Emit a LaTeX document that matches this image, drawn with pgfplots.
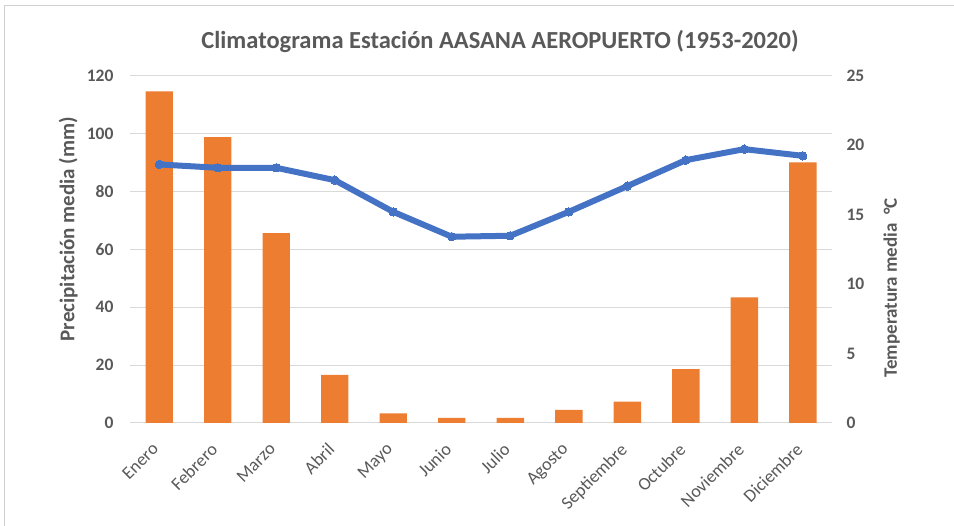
\documentclass[border=0pt]{standalone}
\usepackage{fontspec}
\setmainfont{Carlito}
\usepackage{pgfplots}
\pgfplotsset{compat=1.18}
\usepackage{pgfplotstable}
\definecolor{barorange}{HTML}{ED7D31}
\definecolor{lineblue}{HTML}{4472C4}
\definecolor{gridgray}{HTML}{D9D9D9}
\definecolor{textgray}{HTML}{595959}
\definecolor{framegray}{HTML}{D0D0D0}

% Monthly mean precipitation (mm) and mean temperature (deg C)
\pgfplotstableread{
m  prec   temp
0  114.5  18.60
1  98.7   18.36
2  65.6   18.36
3  16.6   17.47
4  3.3    15.19
5  1.8    13.40
6  1.8    13.47
7  4.5    15.19
8  7.4    17.04
9  18.6   18.91
10 43.4   19.70
11 90.0   19.22
}\clima

\begin{document}
\begin{tikzpicture}
\useasboundingbox (0pt,0pt) rectangle (954pt,526pt);
\draw[framegray, line width=1pt] (4pt,0pt) -- (4pt,520pt) -- (954pt,520pt);
\node[font=\bfseries\fontsize{24.5}{28}\selectfont, text=textgray] at (500pt,485pt)
  {Climatograma Estación AASANA AEROPUERTO (1953-2020)};

% precipitation bars, left axis
\begin{axis}[
  at={(130pt,103pt)}, anchor=south west,
  scale only axis, width=702pt, height=347.5pt,
  xmin=-0.5, xmax=11.5, ymin=0, ymax=120,
  ytick={0,20,...,120},
  xtick={0,...,11},
  xticklabels={Enero,Febrero,Marzo,Abril,Mayo,Junio,Julio,Agosto,Septiembre,Octubre,Noviembre,Diciembre},
  x tick label style={xshift=-8pt, yshift=-14pt, rotate=45, anchor=north east, font=\fontsize{18}{18}\selectfont, text=textgray},
  y tick label style={font=\bfseries\fontsize{17.5}{17.5}\selectfont, text=textgray, xshift=-13pt},
  /pgf/number format/assume math mode=true,
  ymajorgrids, grid style={gridgray, line width=1pt},
  axis line style={draw=none}, major tick style={draw=none},
  ylabel={Precipitación media (mm)},
  ylabel style={font=\bfseries\fontsize{21}{21}\selectfont, text=textgray, at={(axis description cs:-0.088,0.558)}, anchor=center},
  clip=false,
]
\addplot[ybar, bar width=0.47, fill=barorange, draw=none] table[x=m, y=prec] {\clima};
\end{axis}

% temperature line, right axis
\begin{axis}[
  at={(130pt,103pt)}, anchor=south west,
  scale only axis, width=702pt, height=347.5pt,
  xmin=-0.5, xmax=11.5, ymin=0, ymax=25,
  ytick={0,5,...,25},
  axis y line*=right, hide x axis,
  y tick label style={font=\bfseries\fontsize{17.5}{17.5}\selectfont, text=textgray, xshift=11pt},
  /pgf/number format/assume math mode=true,
  axis line style={draw=none}, major tick style={draw=none},
  ylabel={Temperatura media \ °C},
  ylabel style={font=\bfseries\fontsize{19}{19}\selectfont, text=textgray, at={(axis description cs:1.085,0.389)}, anchor=center},
  clip=false,
]
\addplot[lineblue, line width=6pt, line join=round, mark=*, mark size=4.2pt, mark options={fill=lineblue, draw=lineblue, line width=0pt}] table[x=m, y=temp] {\clima};
\end{axis}
\end{tikzpicture}
\end{document}
